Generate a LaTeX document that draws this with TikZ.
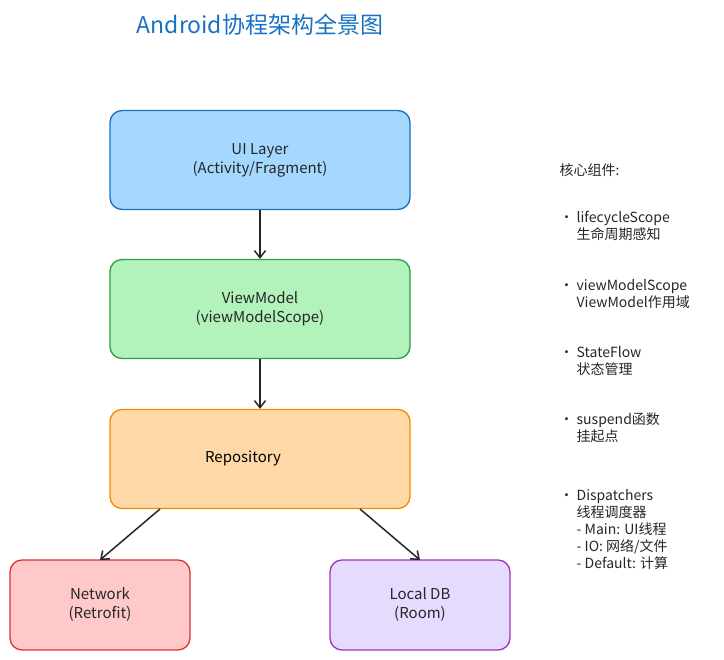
\documentclass[tikz,border=0pt]{standalone}
\usepackage{fontspec}
\setmainfont{Noto Sans CJK SC}
\usetikzlibrary{arrows.meta,positioning}
\definecolor{uifill}{HTML}{A5D8FF}\definecolor{uidraw}{HTML}{1971C2}
\definecolor{vmfill}{HTML}{B2F2BB}\definecolor{vmdraw}{HTML}{2F9E44}
\definecolor{repofill}{HTML}{FFD8A8}\definecolor{repodraw}{HTML}{F08C00}
\definecolor{netfill}{HTML}{FFC9C9}\definecolor{netdraw}{HTML}{E03131}
\definecolor{dbfill}{HTML}{E5DBFF}\definecolor{dbdraw}{HTML}{9C36B5}
\tikzset{
	layer/.style={draw, line width=1.3pt, rounded corners=12pt, minimum width=300pt, minimum height=99pt, align=center, font=\fontsize{15}{19}\selectfont, text=black!85},
	leaf/.style={layer, minimum width=180pt, minimum height=90pt},
	flow/.style={-{Straight Barb[length=7pt,width=11pt]}, line width=1.5pt, black!85},
	info/.style={anchor=west, font=\fontsize{14}{17}\selectfont, text=black!85}
}
\begin{document}
\begin{tikzpicture}[x=1pt,y=-1pt]
			\useasboundingbox (0,0) rectangle (724,660);
			%Title
			\node (title) at (260,25) {\textcolor{uidraw}{\fontsize{23}{28}\selectfont\itshape Android协程架构全景图}};
			%Layers
			\node [layer, fill=uifill, draw=uidraw] (ui) at (260,160) {UI Layer\\(Activity/Fragment)};
			\node [layer, fill=vmfill, draw=vmdraw] (vm) at (260,309) {ViewModel\\(viewModelScope)};
			\node [layer, fill=repofill, draw=repodraw] (repo) at (260,459) {};
			\node (repotext) at (243,458) {\fontsize{15}{19}\selectfont Repository};
			\node [leaf, fill=netfill, draw=netdraw] (net) at (100,605) {Network\\(Retrofit)};
			\node [leaf, fill=dbfill, draw=dbdraw] (db) at (420,605) {Local DB\\(Room)};
			%Arrows
			\coordinate (repoL) at (160,509);
			\coordinate (repoR) at (360,509);
			\coordinate (netT) at (100,560);
			\coordinate (dbT) at (420,560);
			\draw [flow] (ui.south) -- (vm.north);
			\draw [flow] (vm.south) -- (repo.north);
			\draw [flow] (repoL) -- (netT);
			\draw [flow] (repoR) -- (dbT);
			%Side notes
			\node [info] (n0) at (556,170) {核心组件:};
			\node [info, align=left] (n1) at (556,226) {• lifecycleScope\\\phantom{• }生命周期感知};
			\node [info, align=left] (n2) at (556,294) {• viewModelScope\\\phantom{• }ViewModel作用域};
			\node [info, align=left] (n3) at (556,361) {• StateFlow\\\phantom{• }状态管理};
			\node [info, align=left] (n4) at (556,428) {• suspend函数\\\phantom{• }挂起点};
			\node [info, align=left] (n5) at (556,529) {• Dispatchers\\\phantom{• }线程调度器\\\phantom{• }- Main: UI线程\\\phantom{• }- IO: 网络/文件\\\phantom{• }- Default: 计算};
\end{tikzpicture}
\end{document}
